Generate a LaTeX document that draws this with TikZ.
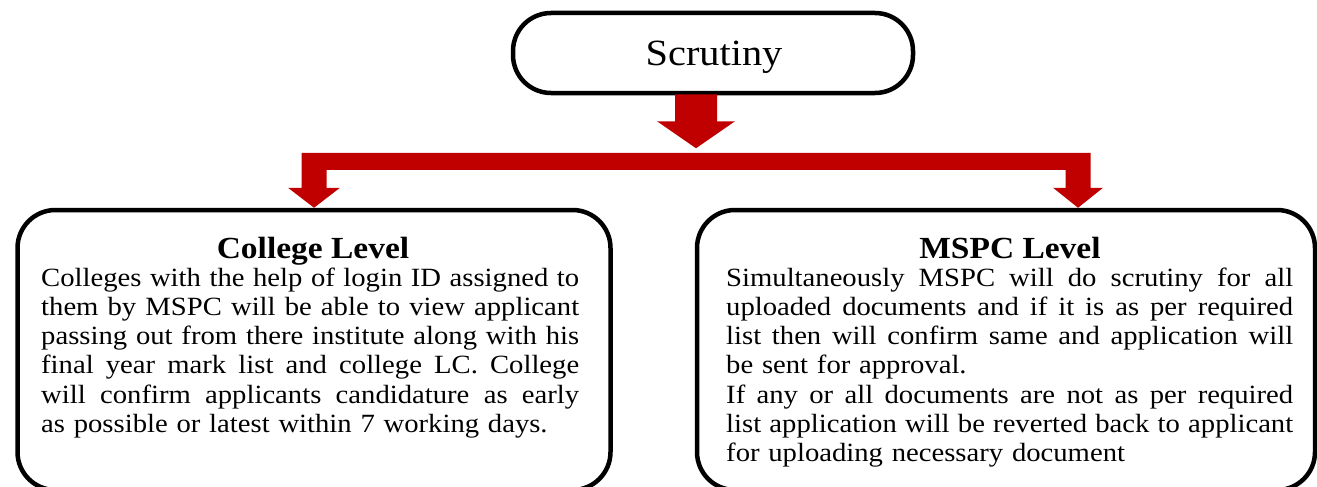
\documentclass[tikz,border=0pt]{standalone}
\usepackage{fontspec}
\setmainfont{Liberation Serif}[FakeStretch=1.09]
\usetikzlibrary{calc}
\definecolor{arrred}{HTML}{C00000}
\tikzset{
  x=1pt, y=-1pt,
  outline/.style={draw=black, line width=4.5pt, fill=white, inner sep=0pt},
  boxtitle/.style={inner sep=0pt, anchor=base, font=\fontsize{30.7}{35}\selectfont\bfseries},
  bodytext/.style={inner sep=0pt, anchor=base west, align=left, font=\fontsize{26.3}{29.3}\selectfont},
  blockarrow/.style={fill=arrred, draw=none},
}
\newcommand\jline[2]{\leavevmode\hbox to #1{\spaceskip=\fontdimen2\font plus 1fil\relax #2}}
\begin{document}
\begin{tikzpicture}
\useasboundingbox (0,0) rectangle (1317,487);
\clip (0,0) rectangle (1317,487);
\fill[white] (0,0) rectangle (1317,487);

% top node
\node[outline, rounded corners=38pt, minimum width=400pt, minimum height=80pt] (scr) at (713,53) {};
\node[inner sep=0pt, anchor=base, font=\fontsize{37}{42}\selectfont] (scrtxt) at (714,66) {Scrutiny};

% lower boxes
\node[outline, rounded corners=38pt, minimum width=593pt, minimum height=280pt] (bL) at (314,350) {};
\node[outline, rounded corners=38pt, minimum width=618pt, minimum height=280pt] (bR) at (1006,350) {};

% titles
\node[boxtitle] (tL) at (313,258) {College Level};
\node[boxtitle] (tR) at (1010,258) {MSPC Level};

% body texts
\node[bodytext, text width=538pt] (xL) at (41,286) {%
\jline{538pt}{Colleges with the help of login ID assigned to}\\
\jline{538pt}{them by MSPC will be able to view applicant}\\
\jline{538pt}{passing out from there institute along with his}\\
\jline{538pt}{final year mark list and college LC. College}\\
\jline{538pt}{will confirm applicants candidature as early}\\
as possible or latest within 7 working days.};

\node[bodytext, text width=567pt] (xR) at (726,286) {%
\jline{567pt}{Simultaneously MSPC will do scrutiny for all}\\
\jline{567pt}{uploaded documents and if it is as per required}\\
\jline{567pt}{list then will confirm same and application will}\\
be sent for approval.\\
\jline{567pt}{If any or all documents are not as per required}\\
\jline{567pt}{list application will be reverted back to applicant}\\
for uploading necessary document};

% connector: Scrutiny down to the bar
\coordinate (s0) at ($(scr.south)+(-17,0)$);
\fill[blockarrow] ($(s0)+(-21,-1)$) -- ($(s0)+(21,-1)$) -- ($(s0)+(21,26)$) -- ($(s0)+(39,26)$)
  -- ($(s0)+(0,53)$) -- ($(s0)+(-39,26)$) -- ($(s0)+(-21,26)$) -- cycle;

% connector: bar splitting to the two boxes
\coordinate (tl) at (bL.north);
\coordinate (tr) at ($(bR.north)+(72,0)$);
\fill[blockarrow]
  ($(tl)+(-12.5,-55)$) -- ($(tr)+(12.5,-55)$) -- ($(tr)+(12.5,-20)$) -- ($(tr)+(25,-20)$)
  -- (tr) -- ($(tr)+(-25,-20)$) -- ($(tr)+(-12.5,-20)$) -- ($(tr)+(-12.5,-38)$)
  -- ($(tl)+(12.5,-38)$) -- ($(tl)+(12.5,-20)$) -- ($(tl)+(26,-20)$)
  -- (tl) -- ($(tl)+(-26,-20)$) -- ($(tl)+(-12.5,-20)$) -- cycle;
\end{tikzpicture}
\end{document}
